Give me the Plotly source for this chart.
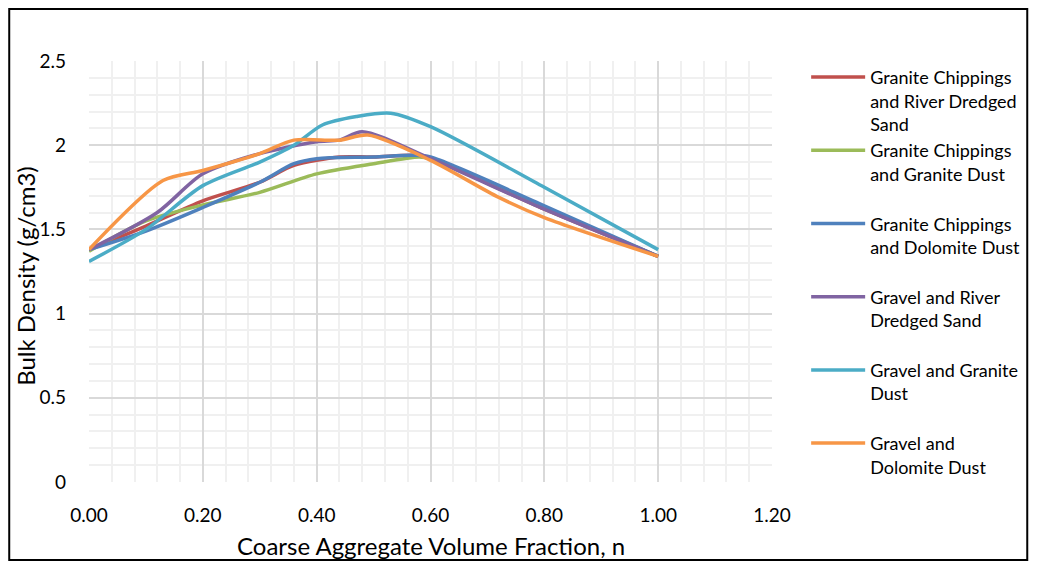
import plotly.graph_objects as go

# Series data
names = [
    "Granite Chippings<br>and River Dredged<br>Sand",
    "Granite Chippings<br>and Granite Dust<br> ",
    "Granite Chippings<br>and Dolomite Dust<br> ",
    "Gravel and River<br>Dredged Sand<br> ",
    "Gravel and Granite<br>Dust<br> ",
    "Gravel and<br>Dolomite Dust<br> ",
]
colors = ["#C0504D", "#9BBB59", "#4F81BD", "#8064A2", "#4BACC6", "#F79646"]

gc_rds_x = [0.0, 0.1, 0.2, 0.3, 0.36, 0.44, 0.5, 0.57, 0.6, 0.8, 1.0]
gc_rds_y = [1.38, 1.52, 1.67, 1.78, 1.88, 1.93, 1.93, 1.94, 1.92, 1.62, 1.34]

gc_gd_x = [0.0, 0.1, 0.2, 0.3, 0.4, 0.5, 0.58, 0.6, 0.8, 1.0]
gc_gd_y = [1.37, 1.55, 1.645, 1.72, 1.83, 1.89, 1.93, 1.92, 1.63, 1.34]

gc_dd_x = [0.0, 0.1, 0.2, 0.3, 0.36, 0.4, 0.5, 0.57, 0.6, 0.8, 1.0]
gc_dd_y = [1.38, 1.49, 1.63, 1.78, 1.89, 1.92, 1.93, 1.94, 1.93, 1.64, 1.34]

gv_rds_x = [0.0, 0.12, 0.2, 0.3, 0.4, 0.44, 0.48, 0.6, 0.8, 1.0]
gv_rds_y = [1.38, 1.60, 1.83, 1.95, 2.02, 2.03, 2.08, 1.92, 1.62, 1.34]

gv_gd_x = [0.0, 0.1, 0.2, 0.3, 0.36, 0.41, 0.47, 0.53, 0.6, 0.8, 1.0]
gv_gd_y = [1.31, 1.50, 1.76, 1.90, 2.00, 2.12, 2.17, 2.19, 2.11, 1.75, 1.38]

gv_ddu_x = [0.0, 0.13, 0.2, 0.3, 0.36, 0.44, 0.49, 0.6, 0.72, 0.8, 1.0]
gv_ddu_y = [1.38, 1.79, 1.85, 1.95, 2.03, 2.03, 2.06, 1.91, 1.69, 1.57, 1.34]

xs = [gc_rds_x, gc_gd_x, gc_dd_x, gv_rds_x, gv_gd_x, gv_ddu_x]
ys = [gc_rds_y, gc_gd_y, gc_dd_y, gv_rds_y, gv_gd_y, gv_ddu_y]

FONT = "Lato"

fig = go.Figure()
for i, (n, c, x, y) in enumerate(zip(names, colors, xs, ys)):
    fig.add_trace(go.Scatter(
        x=x, y=y, name=n, mode="lines",
        line=dict(color=c, width=3.5, shape="spline", smoothing=0.8),
        legendgroup=f"g{i}",
    ))

grid_major = "#D9D9D9"
grid_minor = "#F0F0F0"

W, H = 1029, 554
fig.update_layout(
    width=W, height=H,
    margin=dict(l=81, r=W - 766, t=53, b=H - 474),
    paper_bgcolor="white", plot_bgcolor="white",
    font=dict(family=FONT, size=18, color="black"),
    showlegend=True,
    legend=dict(
        x=1.05, y=1.005, xanchor="left", yanchor="top",
        valign="top", tracegroupgap=0, maxheight=540,
        font=dict(family=FONT, size=18, color="black"),
        itemwidth=54, bgcolor="rgba(0,0,0,0)",
    ),
    xaxis=dict(
        range=[0, 1.2], dtick=0.2, tick0=0, tickformat=".2f",
        showgrid=True, gridcolor=grid_major, gridwidth=1.5,
        minor=dict(dtick=0.04, tick0=0, showgrid=True, gridcolor=grid_minor, gridwidth=1.5),
        zeroline=False, showline=False,
        ticks="", ticklabelstandoff=20,
        tickfont=dict(family=FONT, size=19, color="black"),
    ),
    yaxis=dict(
        range=[0, 2.5], dtick=0.5, tick0=0,
        showgrid=True, gridcolor=grid_major, gridwidth=1.5,
        minor=dict(dtick=0.1, tick0=0, showgrid=True, gridcolor=grid_minor, gridwidth=1.5),
        zeroline=False, showline=False,
        ticks="", ticklabelstandoff=22,
        tickfont=dict(family=FONT, size=19, color="black"),
    ),
    annotations=[
        dict(text="Coarse Aggregate Volume Fraction, n", xref="paper", yref="paper",
             x=0.5, y=-0.152, xanchor="center", yanchor="middle", showarrow=False,
             font=dict(family=FONT, size=24, color="black")),
        dict(text="Bulk Density (g/cm3)", xref="paper", yref="paper",
             x=-0.092, y=0.49, xanchor="center", yanchor="middle", showarrow=False,
             textangle=-90, font=dict(family=FONT, size=24, color="black")),
    ],
    shapes=[
        dict(type="rect", xref="paper", yref="paper",
             x0=(1 - 81) / 685, x1=(W - 7 - 81) / 685,
             y0=(474 - (H - 2)) / 421, y1=(474 - 1) / 421,
             line=dict(color="black", width=2), fillcolor="rgba(0,0,0,0)", layer="below"),
    ],
)

fig.write_html("out.html")
